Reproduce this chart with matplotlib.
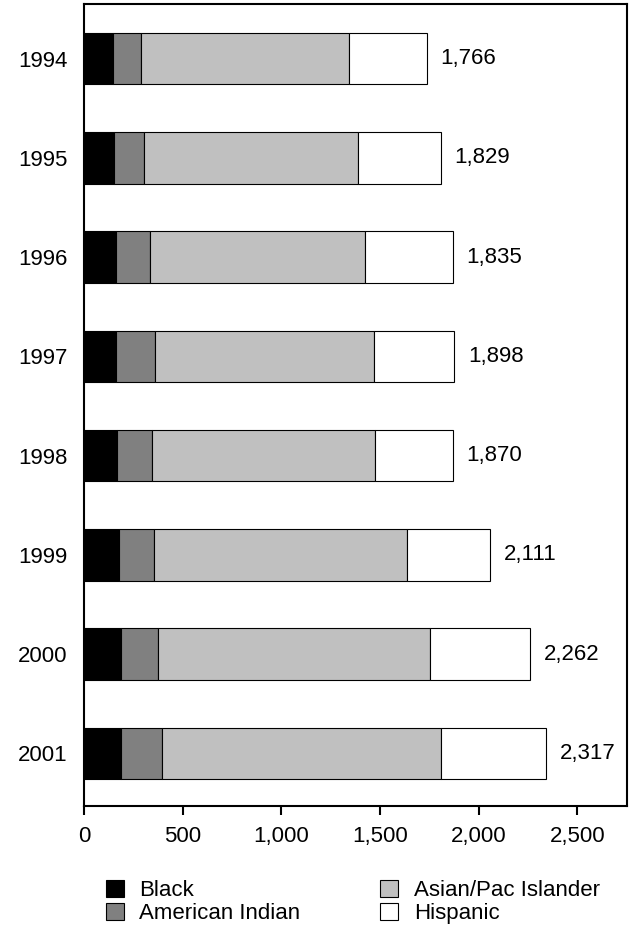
import matplotlib
matplotlib.use('Agg')
import matplotlib.pyplot as plt
import numpy as np
from matplotlib.patches import Patch
from matplotlib.ticker import StrMethodFormatter

plt.rcParams['font.family'] = ['Liberation Sans', 'DejaVu Sans']

# Data
years = ['1994', '1995', '1996', '1997', '1998', '1999', '2000', '2001']
black = [148, 153, 161, 161, 167, 176, 189, 189]
american_indian = [139, 152, 172, 199, 179, 177, 184, 206]
asian_pac = [1054, 1083, 1089, 1109, 1130, 1285, 1379, 1412]
hispanic = [395, 419, 446, 407, 392, 420, 508, 532]
totals = ['1,766', '1,829', '1,835', '1,898', '1,870', '2,111', '2,262', '2,317']

series = [black, american_indian, asian_pac, hispanic]
names = ['Black', 'American Indian', 'Asian/Pac Islander', 'Hispanic']
colors = ['#000000', '#808080', '#c0c0c0', '#ffffff']

fig = plt.figure(figsize=(6.33, 9.3), dpi=100)
ax = fig.add_axes([0.1327, 0.1333, 0.8575, 0.8624])

y = np.arange(len(years))
left = np.zeros(len(years))
for vals, c in zip(series, colors):
    ax.barh(y, vals, left=left, height=0.52, color=c, edgecolor='black', linewidth=0.8)
    left = left + np.array(vals)

# total labels at the end of each bar
for i, lab in enumerate(totals):
    ax.annotate(lab, xy=(left[i], y[i]), xytext=(10, 0), textcoords='offset points',
                va='center', ha='left', fontsize=16)

ax.set_xlim(0, 2750)
ax.set_ylim(7.53, -0.55)
ax.set_yticks(y)
ax.set_yticklabels(years)
ax.set_xticks([0, 500, 1000, 1500, 2000, 2500])
ax.xaxis.set_major_formatter(StrMethodFormatter('{x:,.0f}'))
ax.tick_params(axis='y', length=0, pad=12, labelsize=16)
ax.tick_params(axis='x', length=6.5, width=1.5, pad=8, labelsize=16, direction='out')
for s in ax.spines.values():
    s.set_linewidth(1.5)

handles = [Patch(facecolor=c, edgecolor='black', linewidth=0.8) for c in colors]
fig.legend(handles, names, ncol=2, loc='upper left', bbox_to_anchor=(0.1675, 0.054),
           frameon=False, fontsize=16, handlelength=0.8, handleheight=0.8,
           handletextpad=0.7, columnspacing=3.6, labelspacing=0.1,
           borderpad=0, borderaxespad=0)

fig.savefig('out.png', dpi=100)
